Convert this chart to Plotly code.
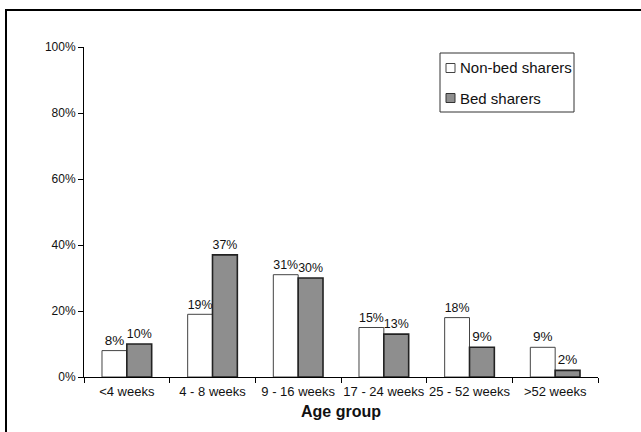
import plotly.graph_objects as go

# Share of infants in each age group, by sleeping arrangement (%)
age_groups = ["<4 weeks", "4 - 8 weeks", "9 - 16 weeks", "17 - 24 weeks", "25 - 52 weeks", ">52 weeks"]
non_bed_sharers = [8, 19, 31, 15, 18, 9]
bed_sharers = [10, 37, 30, 13, 9, 2]
y_ticks = [0, 20, 40, 60, 80, 100]

W, H = 641, 432
L, R, T, B = 84, 43, 47, 55
FONT = "Liberation Sans, Arial, sans-serif"
GREY = "#8e8e8e"


def px(x):
    return (x - L) / (W - L - R)


def py(y):
    return (H - B - y) / (H - T - B)


fig = go.Figure()
fig.add_bar(
    x=age_groups, y=non_bed_sharers, name="Non-bed sharers",
    marker=dict(color="white", line=dict(color="#444", width=1)),
    text=[f"{v}%" for v in non_bed_sharers], textposition="outside",
    textfont=dict(size=13.5, color="#111"), cliponaxis=False,
)
fig.add_bar(
    x=age_groups, y=bed_sharers, name="Bed sharers",
    marker=dict(color=GREY, line=dict(color="#222", width=1.6)),
    text=[f"{v}%" for v in bed_sharers], textposition="outside",
    textfont=dict(size=13.5, color="#111"), cliponaxis=False,
)

fig.update_layout(
    width=W, height=H,
    margin=dict(l=L, r=R, t=T, b=B),
    paper_bgcolor="white", plot_bgcolor="white",
    font=dict(family=FONT, color="#111"),
    barmode="group", bargap=0.42, bargroupgap=0,
    showlegend=False,
    xaxis=dict(
        type="category", showline=True, linecolor="black", linewidth=1,
        ticks="outside", tickson="boundaries", ticklen=5, tickcolor="black",
        tickfont=dict(size=13), tickangle=0, ticklabelstandoff=2,
        showgrid=False, automargin=False,
        title=dict(text="<b>Age group</b>", font=dict(size=16), standoff=8),
    ),
    yaxis=dict(
        range=[0, 100], tickvals=y_ticks, ticktext=[f"{v}%" for v in y_ticks],
        showline=True, linecolor="black", linewidth=1,
        ticks="outside", ticklen=5, tickcolor="black", automargin=False,
        tickfont=dict(size=12), showgrid=False, zeroline=False,
    ),
)

# Outer frame around the figure
fig.add_shape(type="rect", xref="paper", yref="paper",
              x0=px(6), x1=px(660), y0=py(450), y1=py(10),
              line=dict(color="black", width=2), fillcolor="rgba(0,0,0,0)")

# Legend box with swatches
fig.add_shape(type="rect", xref="paper", yref="paper",
              x0=px(440), x1=px(574), y0=py(112), y1=py(53),
              line=dict(color="#333", width=1), fillcolor="white")
legend_items = [("Non-bed sharers", "white", "#444", 68), ("Bed sharers", GREY, "#333", 98)]
for label, fill, edge, yc in legend_items:
    fig.add_shape(type="rect", xref="paper", yref="paper",
                  x0=px(446), x1=px(455), y0=py(yc + 4.5), y1=py(yc - 4.5),
                  line=dict(color=edge, width=1), fillcolor=fill)
    fig.add_annotation(xref="paper", yref="paper", x=px(458), y=py(yc),
                       text=label, showarrow=False, xanchor="left", yanchor="middle",
                       font=dict(size=15, color="#111"))

fig.write_html("out.html")
